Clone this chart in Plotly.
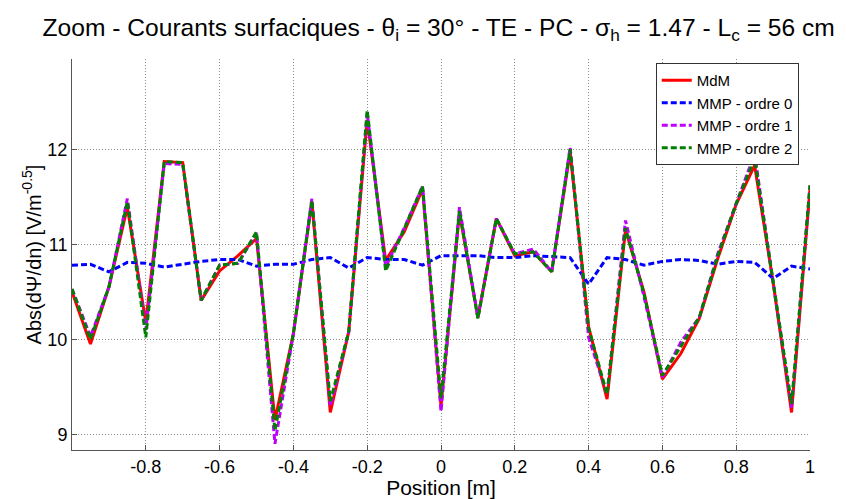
import plotly.graph_objects as go

# Data
positions = [round(-1.0 + 0.05 * k, 2) for k in range(41)]

mdm = [10.50, 9.95, 10.55, 11.39, 10.18, 11.87, 11.86, 10.41, 10.72, 10.88,
       11.06, 9.15, 10.06, 11.45, 9.23, 10.08, 12.31, 10.83, 11.13, 11.58,
       9.30, 11.33, 10.23, 11.27, 10.88, 10.92, 10.71, 11.97, 10.13, 9.37,
       11.15, 10.50, 9.58, 9.85, 10.22, 10.85, 11.42, 11.83, 10.60, 9.23, 11.58]

mmp0 = [10.78, 10.79, 10.71, 10.81, 10.80, 10.76, 10.79, 10.82, 10.84, 10.84,
        10.77, 10.79, 10.79, 10.84, 10.86, 10.75, 10.86, 10.84, 10.84, 10.78,
        10.88, 10.88, 10.88, 10.86, 10.86, 10.88, 10.87, 10.86, 10.58, 10.86,
        10.84, 10.78, 10.82, 10.84, 10.83, 10.79, 10.82, 10.81, 10.64, 10.77, 10.74]

mmp1 = [10.53, 10.03, 10.55, 11.48, 10.10, 11.85, 11.84, 10.41, 10.78, 10.80,
        11.12, 8.90, 10.06, 11.48, 9.30, 10.08, 12.38, 10.76, 11.17, 11.61,
        9.24, 11.39, 10.23, 11.27, 10.90, 10.95, 10.71, 12.02, 10.02, 9.42,
        11.25, 10.45, 9.60, 9.97, 10.23, 10.90, 11.43, 11.95, 10.60, 9.28, 11.62]

mmp2 = [10.53, 10.00, 10.55, 11.45, 10.02, 11.87, 11.86, 10.41, 10.78, 10.80,
        11.13, 9.04, 10.06, 11.46, 9.35, 10.08, 12.41, 10.72, 11.16, 11.61,
        9.38, 11.35, 10.22, 11.27, 10.90, 10.92, 10.71, 12.00, 10.12, 9.42,
        11.17, 10.48, 9.62, 9.93, 10.23, 10.88, 11.43, 11.90, 10.60, 9.32, 11.62]

series_names = ["MdM", "MMP - ordre 0", "MMP - ordre 1", "MMP - ordre 2"]
x_ticks = [-0.8, -0.6, -0.4, -0.2, 0, 0.2, 0.4, 0.6, 0.8, 1]
y_ticks = [9, 10, 11, 12]

arial = "Liberation Sans, Arial, sans-serif"

fig = go.Figure()
fig.add_trace(go.Scatter(x=positions, y=mdm, mode="lines", name=series_names[0],
                         line=dict(color="#ff0000", width=3)))
fig.add_trace(go.Scatter(x=positions, y=mmp0, mode="lines", name=series_names[1],
                         line=dict(color="#0000ff", width=3, dash="6px,3px")))
fig.add_trace(go.Scatter(x=positions, y=mmp1, mode="lines", name=series_names[2],
                         line=dict(color="#bf00ff", width=3, dash="6px,3px")))
fig.add_trace(go.Scatter(x=positions, y=mmp2, mode="lines", name=series_names[3],
                         line=dict(color="#008000", width=3, dash="6px,3px")))

axis_common = dict(
    showgrid=True, gridcolor="#8c8c8c", griddash="1px,2px", gridwidth=1,
    showline=True, linecolor="#555555", linewidth=1, mirror=False,
    ticks="inside", ticklen=5, tickcolor="#555555", automargin=False,
    zeroline=False, tickfont=dict(family=arial, size=18, color="#000000"),
)

# The page body adds an 8px offset, so the figure is sized to fit the window.
fig.update_layout(
    width=838, height=491,
    margin=dict(l=64, r=36, t=51, b=49),
    paper_bgcolor="white", plot_bgcolor="white",
    title=dict(
        text="Zoom - Courants surfaciques - θ<sub>i</sub> = 30° - TE - PC - σ<sub>h</sub> = 1.47 - L<sub>c</sub> = 56 cm",
        x=0.514, xanchor="center", y=0.961, yanchor="middle", yref="container",
        font=dict(family=arial, size=24.6, color="#000000"),
    ),
    xaxis=dict(range=[-1, 1], tickvals=x_ticks,
               ticktext=[f"{v:g}" for v in x_ticks],
               title=dict(text="Position [m]", standoff=0,
                          font=dict(family=arial, size=21, color="#000000")),
               **axis_common),
    yaxis=dict(range=[8.835, 12.95], tickvals=y_ticks,
               title=dict(text="Abs(dΨ/dn) [V/m<sup>-0.5</sup>]", standoff=0,
                          font=dict(family=arial, size=20, color="#000000")),
               **axis_common),
    legend=dict(x=0.791, y=0.99, xanchor="left", yanchor="top",
                bgcolor="white", bordercolor="#333333", borderwidth=1,
                font=dict(family=arial, size=15, color="#000000"),
                tracegroupgap=0, itemwidth=30),
    showlegend=True,
)

fig.write_html("out.html")
